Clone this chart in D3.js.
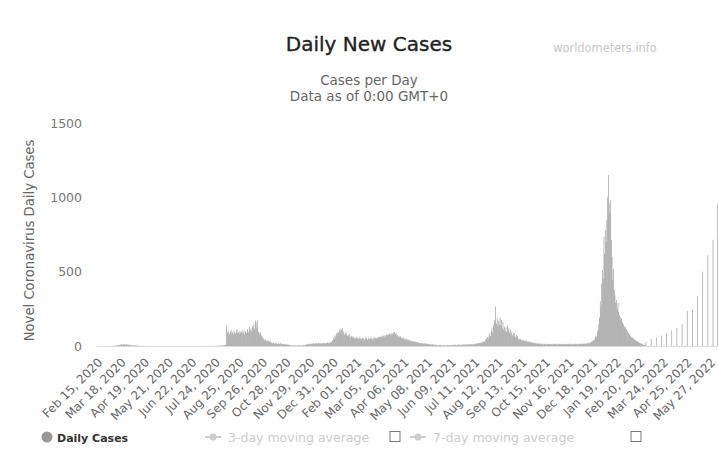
<!DOCTYPE html>
<html><head><meta charset="utf-8">
<script src="https://cdn.jsdelivr.net/npm/d3@7"></script>
<style>body{margin:0;background:#fff} svg{display:block}</style>
</head><body>
<svg id="chart" width="718" height="469"></svg>
<script>
// ---------- DATA ----------
const startDate = "2020-02-15";
// Feb 15, 2020 - Aug 08, 2020
const casesEarly2020 = [
 0,0,0,0,0,0,0,0,0,0,0,0,0,0,0,0,0,0,0,1,
 0,1,0,2,1,3,2,5,4,6,8,5,9,12,7,10,14,9,11,8,
 12,10,7,9,6,8,5,7,4,6,3,5,4,2,3,4,2,1,2,1,
 1,0,2,1,0,1,1,0,0,1,0,0,1,0,0,0,1,0,0,0,
 0,0,1,0,0,0,0,1,0,0,0,0,0,1,0,0,0,0,0,0,
 0,1,0,0,0,0,0,0,1,0,0,0,0,0,0,1,0,0,0,0,
 0,0,0,1,0,0,0,0,0,0,1,0,0,0,0,0,0,1,0,0,
 0,0,0,0,1,0,0,0,0,2,0,0,1,0,0,0,3,0,1,0,
 2,0,1,3,0,2,1,4,2,3,5,2,4,6,3,8
];
// Aug 09, 2020 - Dec 30, 2020
const casesWave2020 = [
 140,95,88,102,80,97,110,85,92,78,105,90,83,99,112,86,94,81,100,89,
 96,84,108,91,78,103,95,87,115,98,92,130,105,118,100,135,125,150,112,170,
 160,120,175,98,88,76,92,70,64,55,48,42,38,45,35,30,40,33,28,36,
 25,22,18,24,20,15,19,22,17,14,18,12,16,20,13,15,11,14,12,10,
 13,9,11,8,10,7,6,4,5,3,4,2,5,3,4,2,3,5,2,4,
 3,2,4,3,5,6,4,8,10,12,14,11,15,13,16,12,18,14,17,15,
 19,16,20,14,18,22,17,15,21,19,16,23,18,20,17,22,19,24,21,18,
 25,22,28,30
];
// Dec 31, 2020 - Apr 27, 2021
const casesWinter2021 = [
 40,55,48,70,62,85,78,95,88,105,118,92,110,120,85,100,76,90,72,84,
 68,75,60,82,58,65,70,55,62,48,57,52,60,45,55,50,58,47,53,44,
 56,49,52,42,58,46,54,41,50,55,45,52,48,57,43,51,59,46,55,50,
 58,54,60,62,56,65,60,68,58,70,64,74,68,76,70,80,74,84,78,72,
 85,80,92,78,95,82,88,70,72,60,68,58,64,52,60,48,56,45,52,42,
 48,40,45,36,42,33,38,30,35,28,32,26,30,24,27,22,25,20
];
// Apr 28, 2021 - Dec 18, 2021
const casesWave2021 = [
 20,18,22,16,19,15,21,17,14,18,12,16,13,10,14,11,9,12,8,10,
 7,9,6,8,5,7,4,6,8,5,3,6,4,7,5,3,6,4,5,7,
 5,8,4,6,9,5,7,10,6,8,5,9,7,11,8,6,10,7,9,12,
 8,11,9,13,10,8,12,9,14,11,10,15,12,9,14,16,12,18,15,20,
 17,22,19,25,21,28,24,32,27,38,45,52,60,48,70,85,65,100,120,90,
 140,175,160,265,150,185,130,170,145,190,140,175,120,160,110,130,100,125,95,140,
 105,120,90,110,80,95,72,88,65,85,60,75,55,68,45,50,40,46,38,42,
 35,40,32,38,30,36,28,33,26,30,24,27,22,25,20,23,18,21,16,19,
 15,18,14,17,12,16,13,15,11,14,12,16,10,13,11,15,12,14,10,13,
 12,15,11,14,13,16,12,10,14,11,15,12,13,10,14,12,11,15,13,12,
 14,11,13,16,12,15,10,14,13,11,15,12,16,13,11,14,12,17,13,15,
 12,16,14,18,13,17,15,20,16,22,18,25,20,28,35
];
// Dec 19, 2021 - Feb 28, 2022
const casesWave2022 = [
 30,42,38,55,70,62,95,110,150,190,
 300,260,420,510,450,735,620,780,700,850,
 1000,1150,960,895,980,713,600,444,520,380,
 340,290,310,250,290,230,210,195,175,185,
 160,150,140,125,130,108,115,95,88,80,
 75,68,62,58,54,50,45,42,38,35,
 32,28,25,22,20,18,15,12,10,7,8,5
];
// Mar 01, 2022 - Jun 06, 2022 (weekly reporting)
const casesWeekly2022 = [
 25,0,0,0,0,0,0,
 47,0,0,0,0,0,0,
 60,0,0,0,0,0,0,
 70,0,0,0,0,0,0,
 87,0,0,0,0,0,0,
 105,0,0,0,0,0,0,
 123,0,0,0,0,0,0,
 150,0,0,0,0,0,0,
 235,0,0,0,0,0,0,
 245,0,0,0,0,0,0,
 335,0,0,0,0,0,0,
 500,0,0,0,0,0,0,
 610,0,0,0,0,0,0,
 715,0,0,0,0,0,950
];
const dailyCases = [].concat(casesEarly2020, casesWave2020, casesWinter2021,
  casesWave2021, casesWave2022, casesWeekly2022);

const tickLabels = ["Feb 15, 2020","Mar 18, 2020","Apr 19, 2020","May 21, 2020","Jun 22, 2020",
 "Jul 24, 2020","Aug 25, 2020","Sep 26, 2020","Oct 28, 2020","Nov 29, 2020","Dec 31, 2020",
 "Feb 01, 2021","Mar 05, 2021","Apr 06, 2021","May 08, 2021","Jun 09, 2021","Jul 11, 2021",
 "Aug 12, 2021","Sep 13, 2021","Oct 15, 2021","Nov 16, 2021","Dec 18, 2021","Jan 19, 2022",
 "Feb 20, 2022","Mar 24, 2022","Apr 25, 2022","May 27, 2022"];
const yTicks = [0, 500, 1000, 1500];

// ---------- CHART ----------
const svg = d3.select("#chart");
const font = "'DejaVu Sans', sans-serif";
const plot = {left: 96.6, right: 717.8, top: 123, bottom: 346};

const t0 = d3.timeParse("%Y-%m-%d")(startDate);
const fmt = d3.timeFormat("%b %d, %Y");
const categories = dailyCases.map((_, i) => fmt(d3.timeDay.offset(t0, i)));

const x = d3.scaleBand().domain(categories).range([plot.left, plot.right]).padding(0);
const y = d3.scaleLinear().domain([0, 1500]).range([plot.bottom, plot.top]);

// titles
svg.append("text").attr("x", 369).attr("y", 51).attr("text-anchor", "middle")
  .attr("font-family", font).attr("font-size", 20).attr("fill", "#222")
  .attr("stroke", "#222").attr("stroke-width", 0.35).text("Daily New Cases");
svg.append("text").attr("x", 369).attr("y", 85).attr("text-anchor", "middle")
  .attr("font-family", font).attr("font-size", 13.5).attr("fill", "#666").text("Cases per Day");
svg.append("text").attr("x", 369).attr("y", 101).attr("text-anchor", "middle")
  .attr("font-family", font).attr("font-size", 13.5).attr("fill", "#666").text("Data as of 0:00 GMT+0");
svg.append("text").attr("x", 605).attr("y", 52).attr("text-anchor", "middle")
  .attr("font-family", font).attr("font-size", 11.4).attr("fill", "#c8c8c8").text("worldometers.info");

// y axis
const yAxis = svg.append("g").attr("transform", `translate(84,0)`)
  .call(d3.axisLeft(y).tickValues(yTicks).tickSize(0).tickPadding(2).tickFormat(d3.format("d")));
yAxis.select(".domain").remove();
yAxis.selectAll("text").attr("font-family", font).attr("font-size", 12.5).attr("fill", "#777");

svg.append("text")
  .attr("transform", `translate(34,${(plot.top + plot.bottom) / 2 + 6}) rotate(-90)`)
  .attr("text-anchor", "middle").attr("font-family", font).attr("font-size", 13.2)
  .attr("fill", "#666").text("Novel Coronavirus Daily Cases");

// bars
const bw = x.bandwidth();
svg.append("g").selectAll("rect")
  .data(dailyCases.map((v, i) => ({cat: categories[i], v})).filter(d => d.v > 0))
  .join("rect")
  .attr("x", d => x(d.cat) + bw * 0.05)
  .attr("width", bw * 0.9)
  .attr("y", d => y(d.v))
  .attr("height", d => y(0) - y(d.v))
  .attr("fill", "#999");

// x axis
const xAxis = svg.append("g").attr("transform", `translate(0,${plot.bottom})`)
  .call(d3.axisBottom(x).tickValues(tickLabels).tickSize(0));
xAxis.select(".domain").attr("stroke", "#dcdcdc").attr("d", `M${plot.left},0.5H${plot.right}`);
xAxis.selectAll("text")
  .attr("x", 0).attr("y", 0).attr("dy", 0)
  .attr("transform", "translate(6,17) rotate(-45)")
  .attr("text-anchor", "end")
  .attr("font-family", font).attr("font-size", 12).attr("fill", "#666");

// legend
const lg = svg.append("g").attr("font-family", font);
lg.append("circle").attr("cx", 47).attr("cy", 437).attr("r", 5.5).attr("fill", "#999");
lg.append("text").attr("x", 57).attr("y", 441.5).attr("font-size", 11).attr("font-weight", "bold")
  .attr("fill", "#333").text("Daily Cases");
const maItems = [{label: "3-day moving average", x0: 205, box: 390},
                 {label: "7-day moving average", x0: 410, box: 631}];
maItems.forEach(m => {
  lg.append("line").attr("x1", m.x0).attr("x2", m.x0 + 16).attr("y1", 437).attr("y2", 437)
    .attr("stroke", "#ccc").attr("stroke-width", 2);
  lg.append("circle").attr("cx", m.x0 + 8).attr("cy", 437).attr("r", 3.5).attr("fill", "#ccc");
  lg.append("text").attr("x", m.x0 + 23).attr("y", 441.5).attr("font-size", 12.5)
    .attr("fill", "#ccc").text(m.label);
  lg.append("rect").attr("x", m.box).attr("y", 431.5).attr("width", 10).attr("height", 10)
    .attr("fill", "#fff").attr("stroke", "#777").attr("stroke-width", 1);
});
</script>
</body></html>
